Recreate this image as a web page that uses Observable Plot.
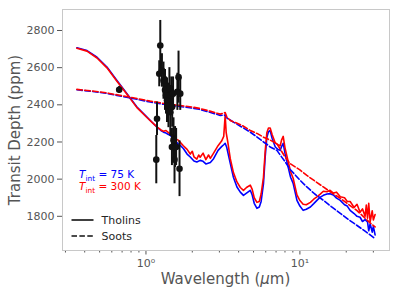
<!DOCTYPE html>
<html><head><meta charset="utf-8">
<script src="https://cdn.jsdelivr.net/npm/d3@7"></script>
<script src="https://cdn.jsdelivr.net/npm/@observablehq/plot@0.6"></script>
<style>html,body{margin:0;padding:0;background:#fff}svg{display:block}</style>
</head><body><div id="chart"></div>
<script>
// ---- Tholins, T_int = 75 K (blue, solid)
const tholBlueLam = [0.356,0.414,0.481,0.558,0.648,0.753,0.874,1.015,1.10,1.179,1.25,1.301,1.35,1.40,1.438,1.5,1.55,1.62,1.67,1.75,1.85,1.94,2.05,2.14,2.25,2.35,2.45,2.62,2.75,2.94,3.1,3.2,3.27,3.35,3.53,3.7,3.9,4.1,4.3,4.5,4.76,4.9,5.05,5.26,5.45,5.6,5.8,5.95,6.1,6.25,6.41,6.6,6.92,7.2,7.45,7.6,7.79,8.0,8.39,8.7,9.04,9.57,10.0,10.5,11.0,11.7,12.3,12.9,13.5,14.2,15.0,15.7,16.5,17.3,18.3,19.5,20.3,21.2,22.5,23.5,24.6,25.5,26.5,27.5,28.0,28.6,29.5,30.0,30.8];
const tholBlueDepth = [2707,2692,2656,2603,2531,2460,2388,2334,2305,2280,2262,2253,2248,2240,2236,2222,2205,2190,2182,2165,2135,2119,2098,2092,2101,2096,2082,2090,2110,2155,2175,2185,2193,2170,2085,2010,1958,1930,1913,1925,1940,1915,1870,1843,1850,1880,1976,2120,2226,2255,2262,2220,2173,2160,2155,2175,2193,2140,2065,2010,1977,1886,1855,1832,1838,1850,1868,1886,1902,1913,1920,1922,1915,1898,1886,1862,1855,1832,1815,1800,1795,1772,1782,1770,1722,1760,1715,1745,1700];
// ---- Tholins, T_int = 300 K (red, solid)
const tholRedLam = [0.356,0.414,0.481,0.558,0.648,0.753,0.874,1.015,1.10,1.179,1.25,1.301,1.35,1.40,1.438,1.5,1.55,1.62,1.67,1.75,1.85,1.94,2.0,2.05,2.14,2.2,2.25,2.35,2.45,2.55,2.62,2.75,2.94,3.1,3.2,3.27,3.32,3.4,3.53,3.7,3.9,4.1,4.3,4.5,4.76,4.9,5.05,5.26,5.45,5.6,5.8,5.95,6.1,6.25,6.41,6.6,6.92,7.2,7.45,7.6,7.79,8.0,8.39,8.7,9.04,9.57,10.0,10.5,11.0,11.7,12.3,12.9,13.5,14.2,15.0,15.7,16.5,17.3,18.3,19.5,20.3,21.2,22.5,23.5,24.6,25.5,26.5,27.0,27.5,28.0,28.6,29.5,30.0,30.8];
const tholRedDepth = [2705,2689,2652,2599,2527,2457,2385,2332,2304,2281,2265,2258,2262,2250,2245,2236,2218,2210,2198,2180,2160,2135,2150,2120,2108,2130,2118,2140,2105,2130,2112,2140,2180,2205,2230,2343,2250,2200,2110,2035,1985,1955,1940,1955,1968,1945,1900,1875,1880,1920,2010,2150,2250,2275,2275,2240,2195,2185,2180,2210,2230,2170,2095,2040,2005,1915,1885,1865,1862,1875,1892,1905,1918,1935,1932,1940,1925,1930,1905,1900,1880,1880,1848,1865,1822,1840,1800,1860,1790,1870,1770,1830,1780,1810];
// ---- Soots, T_int = 75 K (blue, dashed)
const sootBlueLam = [0.356,0.45,0.55,0.648,0.8,1.066,1.3,1.6,2.0,2.25,2.6,3.04,3.27,3.35,3.7,4.2,4.76,5.3,5.8,6.1,6.41,7.09,7.6,8.0,8.65,10.0,11.1,12.5,14.2,16.0,18.3,20.5,23.4,26.5,28.6,30.8];
const sootBlueDepth = [2481,2472,2462,2451,2436,2415,2403,2393,2382,2375,2360,2343,2345,2330,2307,2280,2253,2225,2200,2188,2173,2155,2120,2095,2052,1995,1958,1920,1886,1852,1816,1785,1752,1720,1700,1680];
// ---- Soots, T_int = 300 K (red, dashed)
const sootRedLam = [0.356,0.45,0.55,0.648,0.8,1.066,1.3,1.6,2.0,2.25,2.6,3.04,3.27,3.35,3.53,4.2,4.76,5.3,5.8,6.41,7.09,7.6,8.0,8.65,10.0,11.1,12.5,14.2,16.0,18.3,20.5,23.4,26.5,28.6,30.8];
const sootRedDepth = [2483,2474,2465,2454,2440,2420,2408,2398,2388,2380,2366,2350,2358,2335,2316,2290,2262,2245,2226,2210,2191,2150,2120,2083,2050,2020,1990,1958,1928,1897,1866,1832,1790,1765,1743];
// ---- Observations
const obsLam = [0.67,1.167,1.18,1.22,1.239,1.27,1.30,1.33,1.35,1.37,1.40,1.42,1.44,1.46,1.475,1.48,1.50,1.51,1.533,1.545,1.57,1.60,1.628,1.652,1.67];
const obsDepth = [2481,2105,2325,2567,2719,2585,2530,2480,2450,2425,2397,2490,2360,2450,2173,2390,2460,2210,2105,2173,2173,2470,2549,2056,2460];
const obsErr = [18,130,90,70,135,90,100,110,100,120,120,110,130,100,100,110,90,120,130,110,100,100,140,150,90];
// ---- Axis ticks
const yTicks = [1800,2000,2200,2400,2600,2800];
const xMajor = [1,10];
const xMinor = [0.3,0.4,0.5,0.6,0.7,0.8,0.9,2,3,4,5,6,7,8,9,20,30];

const toRows = (lam, dep) => lam.map((l,i)=>({lam:l, depth:dep[i]}));
const obs = obsLam.map((l,i)=>({lam:l, depth:obsDepth[i], err:obsErr[i]}));
const sup = {"0":"⁰","1":"¹","2":"²","-":"⁻"};
const fmt = d => "10" + String(Math.round(Math.log10(d))).split("").map(c=>sup[c]).join("");

const BLUE = "#0000ff", RED = "#ff0000", GRAY = "#555555";
const dash = "5.5,2.4";

const chart = Plot.plot({
  width: 399, height: 295,
  marginLeft: 62, marginRight: 10, marginTop: 9, marginBottom: 45,
  style: {fontFamily: "DejaVu Sans", fontSize: "11px", color: GRAY, background: "#fff"},
  x: {type: "log", domain: [0.287, 38.2]},
  y: {domain: [1616, 2913]},
  marks: [
    Plot.axisY({ticks: yTicks, tickSize: 5, tickPadding: 3, tickFormat: d => String(d), label: null, fontSize: 11}),
    Plot.axisX({ticks: xMajor, tickSize: 4.5, tickPadding: 4, tickFormat: fmt, label: null, fontSize: 11}),
    Plot.axisX({ticks: xMinor, tickSize: 2.5, tickFormat: () => "", label: null}),
    Plot.line(toRows(tholBlueLam, tholBlueDepth), {x: "lam", y: "depth", stroke: BLUE, strokeWidth: 1.6}),
    Plot.line(toRows(tholRedLam, tholRedDepth), {x: "lam", y: "depth", stroke: RED, strokeWidth: 1.6}),
    Plot.line(toRows(sootBlueLam, sootBlueDepth), {x: "lam", y: "depth", stroke: BLUE, strokeWidth: 1.6, strokeDasharray: dash}),
    Plot.line(toRows(sootRedLam, sootRedDepth), {x: "lam", y: "depth", stroke: RED, strokeWidth: 1.6, strokeDasharray: dash}),
    Plot.ruleX(obs, {x: "lam", y1: d => d.depth - d.err, y2: d => d.depth + d.err, stroke: "#111", strokeWidth: 2}),
    Plot.dot(obs, {x: "lam", y: "depth", r: 3.3, fill: "#111", stroke: "none"}),
    Plot.frame({stroke: "#c8c8c8", strokeWidth: 1})
  ]
});

document.getElementById("chart").appendChild(chart);
const svg = d3.select(chart);
svg.append("text").attr("x", 225.5).attr("y", 284).attr("text-anchor", "middle")
  .attr("font-size", 15).style("fill", GRAY).attr("font-family", "DejaVu Sans")
  .call(t => { t.append("tspan").text("Wavelength ("); t.append("tspan").attr("font-style","italic").text("μ"); t.append("tspan").text("m)"); });
svg.append("text").attr("transform", "translate(20,130) rotate(-90)").attr("text-anchor", "middle")
  .attr("font-size", 15).style("fill", GRAY).attr("font-family", "DejaVu Sans").text("Transit Depth (ppm)");

function tlabel(y, color, rest) {
  const g = svg.append("g").attr("font-family", "DejaVu Sans").attr("text-anchor", "start").style("fill", color);
  let x = 79;
  const t1 = g.append("text").attr("x", x).attr("y", y).attr("font-size", 10.5).attr("font-style", "italic").style("fill", color).text("T");
  x += t1.node().getComputedTextLength();
  const t2 = g.append("text").attr("x", x).attr("y", y + 2.5).attr("font-size", 7.4).style("fill", color).text("int");
  x += t2.node().getComputedTextLength();
  g.append("text").attr("x", x).attr("y", y).attr("font-size", 10.5).style("fill", color).style("white-space", "pre").text(rest);
}
tlabel(178.3, BLUE, " = 75 K");
tlabel(190, RED, " = 300 K");

const lg = svg.append("g").attr("font-family", "DejaVu Sans").attr("font-size", 11).attr("text-anchor", "start");
lg.append("line").attr("x1", 71.5).attr("x2", 93.5).attr("y1", 220).attr("y2", 220).attr("stroke", "#111").attr("stroke-width", 1.6);
lg.append("text").attr("x", 101.5).attr("y", 224).style("fill", "#262626").text("Tholins");
lg.append("line").attr("x1", 71.5).attr("x2", 93.5).attr("y1", 236).attr("y2", 236).attr("stroke", "#111").attr("stroke-width", 1.6).attr("stroke-dasharray", dash);
lg.append("text").attr("x", 101.5).attr("y", 240).style("fill", "#262626").text("Soots");
</script></body></html>
